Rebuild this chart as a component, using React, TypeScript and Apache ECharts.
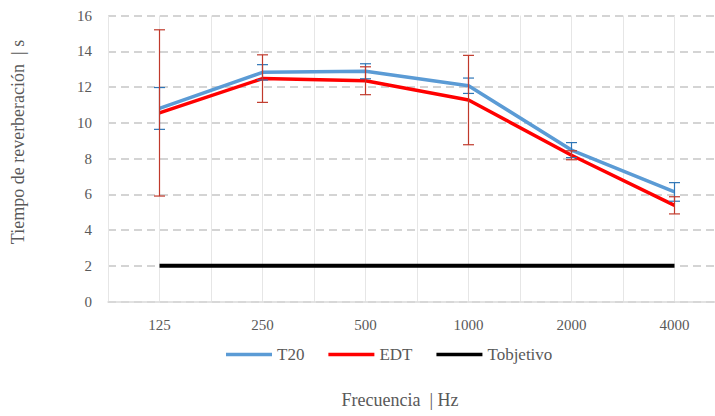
import React, { useEffect, useRef } from "react";
import * as echarts from "echarts";

// Frequency bands (Hz)
const frequencies = ["125", "250", "500", "1000", "2000", "4000"];

// Reverberation times (s) and their standard deviations
const t20 = [10.8, 12.82, 12.88, 12.07, 8.47, 6.13];
const t20Dev = [1.17, 0.43, 0.42, 0.43, 0.42, 0.52];
const edt = [10.55, 12.47, 12.35, 11.27, 8.18, 5.38];
const edtDev = [4.65, 1.33, 0.78, 2.5, 0.25, 0.48];
const objetivo = [2, 2, 2, 2, 2, 2];

const yTicks = [0, 2, 4, 6, 8, 10, 12, 14, 16];

const FONT = "'Liberation Serif', 'DejaVu Serif', serif";
const TEXT = "#595959";

function errorBarSeries(name: string, values: number[], dev: number[], color: string) {
  return {
    name,
    type: "custom",
    xAxisIndex: 0,
    yAxisIndex: 0,
    z: 5,
    encode: { x: 0, y: [1, 2] },
    data: values.map((v, i) => [i, v - dev[i], v + dev[i]]),
    renderItem: (_params: any, api: any) => {
      const idx = api.value(0);
      const lo = api.coord([idx, api.value(1)]);
      const hi = api.coord([idx, api.value(2)]);
      const half = 5.5;
      const style = { stroke: color, lineWidth: 1.2 };
      return {
        type: "group",
        children: [
          { type: "line", shape: { x1: lo[0], y1: lo[1], x2: hi[0], y2: hi[1] }, style },
          { type: "line", shape: { x1: hi[0] - half, y1: hi[1], x2: hi[0] + half, y2: hi[1] }, style },
          { type: "line", shape: { x1: lo[0] - half, y1: lo[1], x2: lo[0] + half, y2: lo[1] }, style },
        ],
      };
    },
  };
}

export default function App() {
  const ref = useRef<HTMLDivElement>(null);

  useEffect(() => {
    if (!ref.current) return;
    const chart = echarts.init(ref.current, undefined, { renderer: "svg" });
    chart.setOption({
      animation: false,
      textStyle: { fontFamily: FONT },
      grid: {
        left: 108,
        top: 15.5,
        width: 618,
        height: 286,
        containLabel: false,
        outerBoundsMode: "none",
      },
      xAxis: [
        {
          type: "category",
          data: frequencies,
          boundaryGap: true,
          axisLine: { show: true, lineStyle: { color: "#d9d9d9", width: 1.5 } },
          axisTick: { show: false },
          splitLine: { show: false },
          axisLabel: { color: TEXT, fontSize: 15, fontFamily: FONT, margin: 16 },
        },
        {
          type: "value",
          min: 0,
          max: 12,
          interval: 1,
          position: "top",
          axisLine: { show: false },
          axisTick: { show: false },
          axisLabel: { show: false },
          splitLine: { show: true, lineStyle: { color: "#e6e6e6", width: 1 } },
        },
      ],
      yAxis: {
        type: "value",
        min: yTicks[0],
        max: yTicks[yTicks.length - 1],
        interval: 2,
        axisLine: { show: false },
        axisTick: { show: false },
        axisLabel: { color: TEXT, fontSize: 15, fontFamily: FONT, margin: 16 },
        splitLine: {
          show: true,
          lineStyle: { color: "#d4d4d4", width: 1.8, type: [8, 5] },
        },
      },
      legend: {
        left: 221,
        top: 341,
        itemWidth: 46,
        itemHeight: 3.5,
        itemGap: 24,
        icon: "rect",
        data: ["T20", "EDT", "Tobjetivo"],
        textStyle: { color: TEXT, fontSize: 17, fontFamily: FONT },
      },
      graphic: [
        {
          type: "text",
          x: 400,
          y: 400,
          style: {
            text: "Frecuencia  | Hz",
            fill: TEXT,
            font: `18px ${FONT}`,
            textAlign: "center",
            textVerticalAlign: "middle",
          },
        },
        {
          type: "text",
          x: 18,
          y: 142,
          rotation: Math.PI / 2,
          style: {
            text: "Tiempo de reverberación  | s",
            fill: TEXT,
            font: `18px ${FONT}`,
            textAlign: "center",
            textVerticalAlign: "middle",
          },
        },
      ],
      series: [
        {
          name: "T20",
          type: "line",
          data: t20,
          symbol: "none",
          lineStyle: { color: "#5B9BD5", width: 3.5 },
          itemStyle: { color: "#5B9BD5" },
          z: 3,
        },
        {
          name: "EDT",
          type: "line",
          data: edt,
          symbol: "none",
          lineStyle: { color: "#FF0000", width: 3.5 },
          itemStyle: { color: "#FF0000" },
          z: 4,
        },
        {
          name: "Tobjetivo",
          type: "line",
          data: objetivo,
          symbol: "none",
          lineStyle: { color: "#000000", width: 4 },
          itemStyle: { color: "#000000" },
          z: 2,
        },
        errorBarSeries("T20 desv.", t20, t20Dev, "#2E75B6"),
        errorBarSeries("EDT desv.", edt, edtDev, "#C0392B"),
      ],
    });
    return () => chart.dispose();
  }, []);

  return (
    <div
      ref={ref}
      style={{ position: "absolute", left: 0, top: 0, width: 715, height: 416, background: "#fff" }}
    />
  );
}
